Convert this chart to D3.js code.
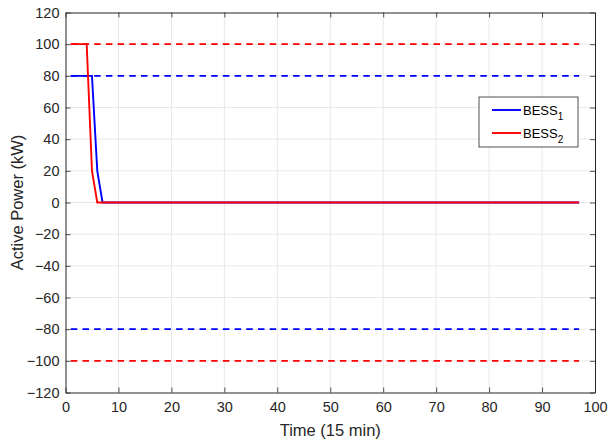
<!DOCTYPE html>
<html>
<head>
<meta charset="utf-8">
<script src="https://cdn.jsdelivr.net/npm/d3@7"></script>
<style>
  html, body { margin: 0; padding: 0; background: #fff; }
  svg { display: block; font-family: "Liberation Sans", Arial, sans-serif; }
</style>
</head>
<body>
<svg id="chart" width="609" height="443"></svg>
<script>
// Time steps (15 min intervals)
const time = d3.range(1, 98);
// BESS active power set points (kW)
const bess1Head = [80, 80, 80, 80, 80, 20, 0];
const bess2Head = [100, 100, 100, 100, 20, 0];
const bess1 = time.map((t, i) => i < bess1Head.length ? bess1Head[i] : 0);
const bess2 = time.map((t, i) => i < bess2Head.length ? bess2Head[i] : 0);
// Power limits (kW)
const bess1Limits = [80, -80];
const bess2Limits = [100, -100];
const xTicks = d3.range(0, 101, 10);
const yTicks = d3.range(-120, 121, 20);

const svg = d3.select("#chart");
const m = { left: 65.5, right: 595, top: 12.5, bottom: 392.5 };
const x = d3.scaleLinear().domain([0, 100]).range([m.left, m.right]);
const y = d3.scaleLinear().domain([-120, 120]).range([m.bottom, m.top]);

// grid
const grid = svg.append("g");
grid.selectAll(".gx").data(xTicks.slice(1, -1)).join("line")
  .attr("x1", d => x(d)).attr("x2", d => x(d)).attr("y1", m.top).attr("y2", m.bottom)
  .attr("stroke", "#e8e8e8").attr("stroke-width", 1);
grid.selectAll(".gy").data(yTicks.slice(1, -1)).join("line")
  .attr("y1", d => y(d)).attr("y2", d => y(d)).attr("x1", m.left).attr("x2", m.right)
  .attr("stroke", "#e8e8e8").attr("stroke-width", 1);

const clip = svg.append("clipPath").attr("id", "clip").append("rect")
  .attr("x", m.left).attr("y", m.top).attr("width", m.right - m.left).attr("height", m.bottom - m.top);
const plot = svg.append("g").attr("clip-path", "url(#clip)");

// limit lines
const limits = [
  ...bess2Limits.map(v => ({ v, c: "#ff0000" })),
  ...bess1Limits.map(v => ({ v, c: "#0000ff" }))
];
plot.selectAll(".lim").data(limits).join("line")
  .attr("x1", x(time[0])).attr("x2", x(time[time.length - 1]))
  .attr("y1", d => y(d.v)).attr("y2", d => y(d.v))
  .attr("stroke", d => d.c).attr("stroke-width", 1.9)
  .attr("stroke-dasharray", "6.5,5.2");

const line = d3.line().x((d, i) => x(time[i])).y(d => y(d));
plot.append("path").datum(bess1).attr("d", line)
  .attr("fill", "none").attr("stroke", "#0000ff").attr("stroke-width", 1.9);
plot.append("path").datum(bess2).attr("d", line)
  .attr("fill", "none").attr("stroke", "#ff0000").attr("stroke-width", 1.9);

// axes
const axisColor = "#262626";
const fs = "14.5px";
const xAxis = svg.append("g").attr("transform", `translate(0,${m.bottom})`)
  .call(d3.axisBottom(x).tickValues(xTicks).tickSize(-5).tickPadding(9).tickSizeOuter(0));
const xTop = svg.append("g").attr("transform", `translate(0,${m.top})`)
  .call(d3.axisTop(x).tickValues(xTicks).tickSize(-5).tickFormat("").tickSizeOuter(0));
const yAxis = svg.append("g").attr("transform", `translate(${m.left},0)`)
  .call(d3.axisLeft(y).tickValues(yTicks).tickSize(-5).tickPadding(6).tickSizeOuter(0));
const yRight = svg.append("g").attr("transform", `translate(${m.right},0)`)
  .call(d3.axisRight(y).tickValues(yTicks).tickSize(-5).tickFormat("").tickSizeOuter(0));
[xAxis, xTop, yAxis, yRight].forEach(g => {
  g.selectAll("path").attr("stroke", axisColor).attr("stroke-width", 1);
  g.selectAll("line").attr("stroke", axisColor).attr("stroke-width", 0.8);
  g.selectAll("text").attr("fill", axisColor).style("font-size", fs)
    .style("font-family", "'Liberation Sans', Arial, sans-serif");
});

// axis titles
svg.append("text").attr("x", (m.left + m.right) / 2).attr("y", 436)
  .attr("text-anchor", "middle").attr("fill", axisColor).style("font-size", "16.5px")
  .text("Time (15 min)");
svg.append("text").attr("transform", `translate(23,${(m.top + m.bottom) / 2}) rotate(-90)`)
  .attr("text-anchor", "middle").attr("fill", axisColor).style("font-size", "16.5px")
  .text("Active Power (kW)");

// legend
const lg = svg.append("g").attr("transform", "translate(479,97)");
lg.append("rect").attr("width", 99).attr("height", 50)
  .attr("fill", "#fff").attr("stroke", "#262626").attr("stroke-width", 0.8);
const items = [{ n: "1", c: "#0000ff" }, { n: "2", c: "#ff0000" }];
items.forEach((it, i) => {
  const yy = 13 + i * 23;
  lg.append("line").attr("x1", 13).attr("x2", 42).attr("y1", yy).attr("y2", yy)
    .attr("stroke", it.c).attr("stroke-width", 1.9);
  const t = lg.append("text").attr("x", 44).attr("y", yy + 4.5).attr("fill", "#000")
    .style("font-size", "13px");
  t.append("tspan").text("BESS");
  t.append("tspan").attr("dy", 5).style("font-size", "10px").text(it.n);
});
</script>
</body>
</html>
